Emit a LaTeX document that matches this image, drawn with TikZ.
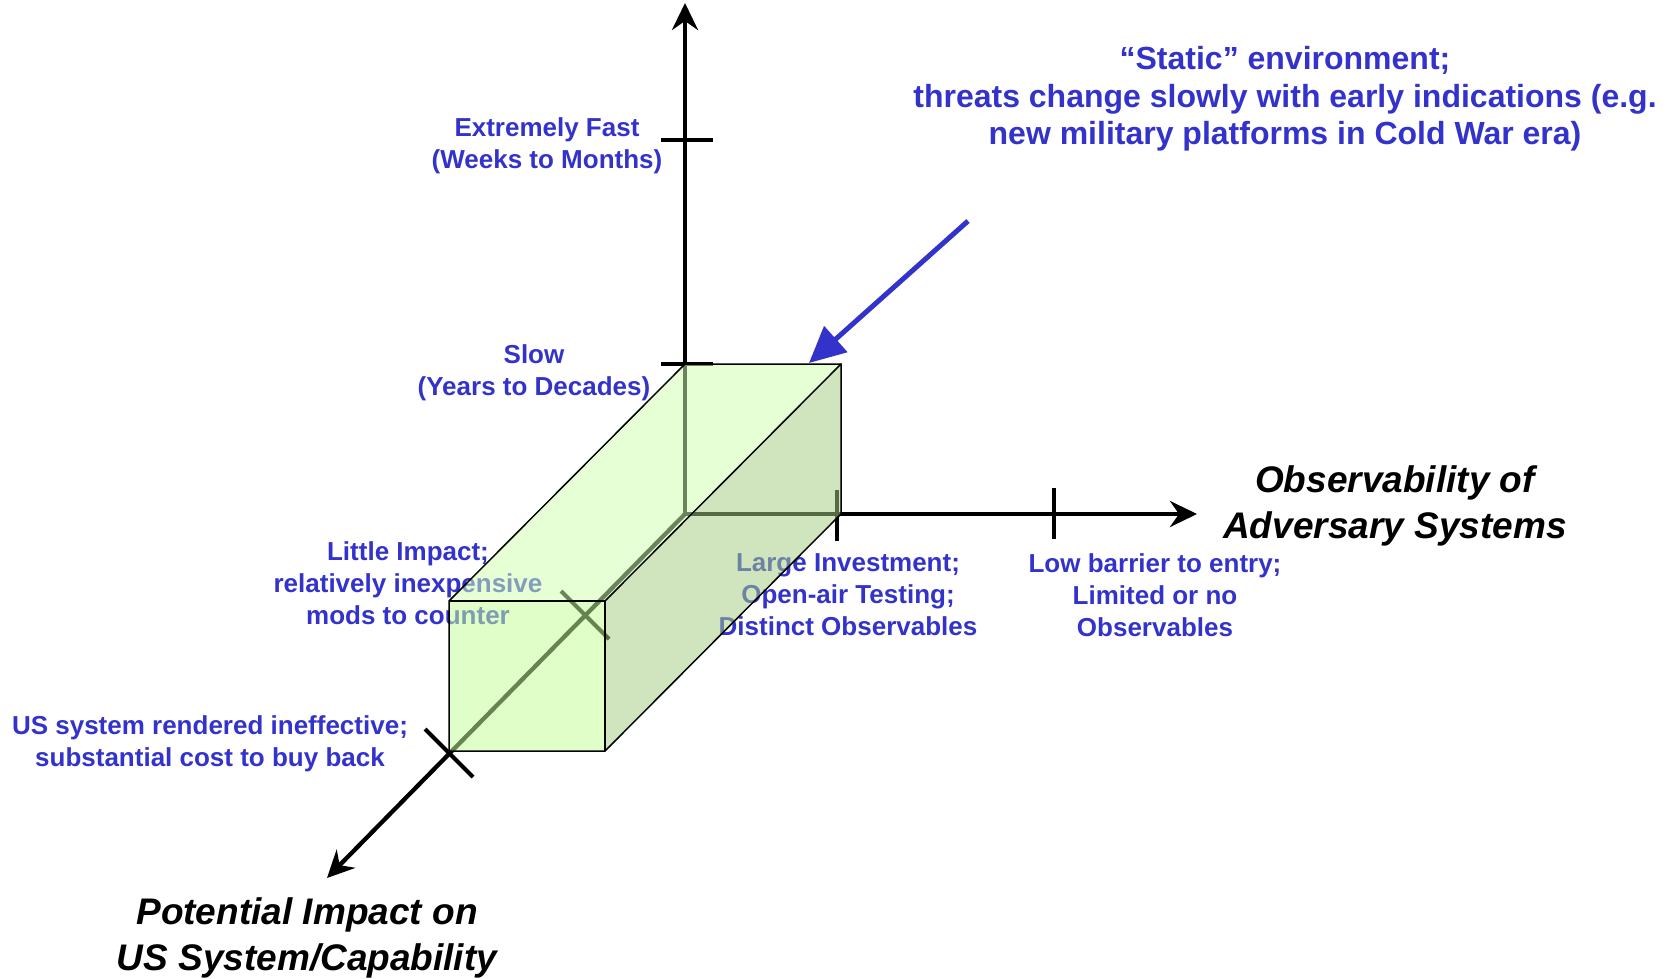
\documentclass[tikz,border=0pt]{standalone}
\usepackage{fontspec}
\setmainfont{Liberation Sans}
\usetikzlibrary{arrows.meta}
\definecolor{lblue}{HTML}{3333CC}
\definecolor{topgreen}{RGB}{207,255,175}
\definecolor{frontgreen}{RGB}{195,255,150}
\definecolor{sidegreen}{RGB}{165,206,129}
\begin{document}
\begin{tikzpicture}[x=1pt,y=-1pt,
  axis/.style={line width=4.3pt,-{Stealth[length=27pt,width=26pt,inset=9pt]}},
  tickmark/.style={line width=4pt},
  lbl/.style={text=lblue,font=\bfseries\fontsize{26}{32}\selectfont,align=center,inner sep=0pt},
  biglbl/.style={text=lblue,font=\bfseries\fontsize{32}{37.5}\selectfont,align=center,inner sep=0pt},
  axlbl/.style={font=\bfseries\itshape\fontsize{37}{46}\selectfont,align=center,inner sep=0pt},
  face/.style={fill opacity=0.52,draw=none},
  edge/.style={draw=black,line width=1.5pt,line join=miter}]
\useasboundingbox (0,0) rectangle (1674,978);

% axes
\coordinate (O) at (685,514);
\coordinate (ytop) at (685,3);
\coordinate (xend) at (1197,514);
\coordinate (zend) at (327,878);
\draw[axis] (O) -- (ytop);
\draw[axis] (O) -- (xend);
\draw[axis] (O) -- (zend);

% tick marks
\coordinate (y1a) at (661,364); \coordinate (y1b) at (713,364);
\coordinate (y2a) at (661,140); \coordinate (y2b) at (713,140);
\coordinate (x1a) at (837,490); \coordinate (x1b) at (837,541);
\coordinate (x2a) at (1054,488); \coordinate (x2b) at (1054,539);
\coordinate (z1a) at (561,591); \coordinate (z1b) at (609,639);
\coordinate (z2a) at (425,729); \coordinate (z2b) at (473,777);
\draw[tickmark] (y1a) -- (y1b);
\draw[tickmark] (y2a) -- (y2b);
\draw[tickmark] (x1a) -- (x1b);
\draw[tickmark] (x2a) -- (x2b);
\draw[tickmark] (z1a) -- (z1b);
\draw[tickmark] (z2a) -- (z2b);

% tick labels
\node[lbl] (fast) at (547,146) {Extremely Fast\\(Weeks to Months)};
\node[lbl] (slow) at (534,373) {Slow\\(Years to Decades)};
\node[lbl] (little) at (408,583) {Little Impact;\\relatively inexpensive\\mods to counter};
\node[lbl] (ussys) at (210,744) {US system rendered ineffective;\\substantial cost to buy back};
\node[lbl] (large) at (848,595) {Large Investment;\\Open-air Testing;\\Distinct Observables};
\node[lbl] (low) at (1155,595) {Low barrier to entry;\\Limited or no\\Observables};

% translucent box
\coordinate (B1) at (685,364);
\coordinate (B2) at (841,364);
\coordinate (B3) at (841,514);
\coordinate (F1) at (449,601);
\coordinate (F2) at (605,601);
\coordinate (F3) at (605,751);
\coordinate (F4) at (449,751);
\fill[face,topgreen] (F1) -- (B1) -- (B2) -- (F2) -- cycle;
\fill[face,frontgreen] (F1) -- (F2) -- (F3) -- (F4) -- cycle;
\fill[face,sidegreen] (F2) -- (B2) -- (B3) -- (F3) -- cycle;
\draw[edge] (F1) -- (B1) -- (B2) -- (B3) -- (F3) -- (F4) -- cycle;
\draw[edge] (F1) -- (F2) -- (F3);
\draw[edge] (F2) -- (B2);

% axis titles
\node[axlbl] (obs) at (1395,506) {Observability of\\Adversary Systems};
\node[axlbl] (pot) at (307,938) {Potential Impact on\\US System/Capability};

% callout
\node[biglbl] (static) at (1285,99) {“Static” environment;\\threats change slowly with early indications (e.g.\\new military platforms in Cold War era)};
\coordinate (cstart) at (968,221);
\coordinate (cend) at (809,363);
\draw[lblue,line width=5pt,-{Triangle[length=36pt,width=34pt]}] (cstart) -- (cend);
\end{tikzpicture}
\end{document}
